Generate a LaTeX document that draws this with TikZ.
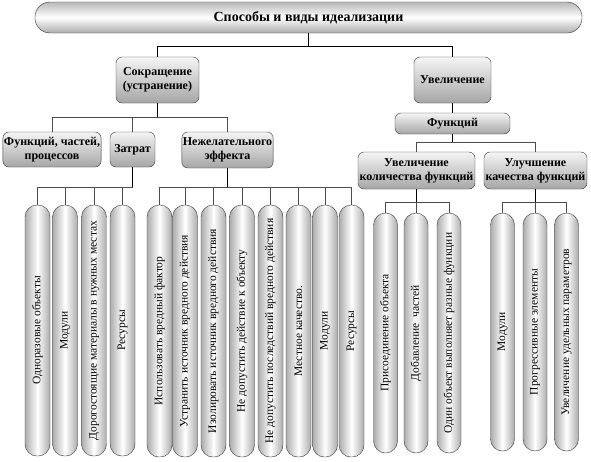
\documentclass[tikz,border=0pt]{standalone}
\usepackage{fontspec}
\setmainfont{Liberation Serif}
\usetikzlibrary{calc}
\tikzset{
	banner/.style={
		draw=gray!40!black,
		rounded corners=15pt,
		top color=gray!55,
		bottom color=gray!65,
		middle color=white,
		minimum width=547pt,
		minimum height=31pt,
		font=\fontsize{14}{16}\selectfont\bfseries},
	box/.style={
		draw=gray!40!black,
		rounded corners=6pt,
		top color=gray!8,
		bottom color=gray!70,
		align=center,
		inner sep=1pt,
		font=\fontsize{12}{14}\selectfont\bfseries},
	pill/.style={
		draw=gray!40!black,
		rounded corners=12pt,
		left color=gray!65,
		right color=gray!65,
		middle color=white,
		inner sep=0pt,
		minimum width=25pt,
		font=\fontsize{11.5}{13}\selectfont},
	trunk/.style={line width=1.1pt, black},
	branch/.style={line width=0.6pt, gray!60!black}
}

\begin{document}
\begin{tikzpicture}[x=1pt,y=-1pt]
	\useasboundingbox (0,0) rectangle (591,461);
	% top
	\node [banner] (title) at (308.5,17.5) {Способы и виды идеализации};
	\node [box, minimum width=83pt, minimum height=46pt] (red) at (157.5,80) {Сокращение\\(устранение)};
	\node [box, minimum width=77pt, minimum height=46pt] (inc) at (452.5,80) {Увеличение};
	\draw[trunk] (title.south) -- ++(0,13) coordinate (topbus);
	\draw[trunk] (topbus) -| (red.north);
	\draw[trunk] (topbus) -| (inc.north);
	% reduction
	\node [box, minimum width=98pt, minimum height=35pt] (fun) at (52,149.5) {Функций, частей,\\процессов};
	\node [box, minimum width=45pt, minimum height=35pt] (cost) at (132.5,149.5) {Затрат};
	\node [box, minimum width=91pt, minimum height=36pt] (harm) at (227.5,150) {Нежелательного\\эффекта};
	\draw[trunk] (red.south) -- ++(0,14) coordinate (redbus);
	\foreach \n in {fun,cost,harm}
		\draw[branch] (redbus) -| (\n.north);
	% increase
	\node [box, minimum width=115pt, minimum height=21pt] (funcs) at (452.5,123.5) {Функций};
	\node [box, minimum width=117pt, minimum height=37pt] (more) at (416.5,170.5) {Увеличение\\количества функций};
	\node [box, minimum width=103pt, minimum height=37pt] (qual) at (535.5,170.5) {Улучшение\\качества функций};
	\draw[trunk] (inc.south) -- (funcs.north);
	\draw[trunk] (funcs.south) -- ++(0,8) coordinate (funbus);
	\draw[branch] (funbus) -| (more.north);
	\draw[branch] (funbus) -| (qual.north);
	% pills under Затрат
	\foreach \x/\t [count=\i] in {37.5/Одноразовые объекты, 65/Модули, 94/Дорогостоящие материалы в нужных местах, 122.5/Ресурсы}
		\node [pill, minimum height=251pt] (c\i) at (\x,330.5) {\rotatebox{90}{\t}};
	\draw[trunk] (cost.south) -- ++(0,20) coordinate (costbus);
	\foreach \i in {1,...,4}
		\draw[branch] (costbus) -| (c\i.north);
	% pills under Нежелательного эффекта
	\foreach \x/\t [count=\i] in {159.5/Использовать вредный фактор, 185/Устранить источник вредного действия, 213.5/Изолировать источник вредного действия, 242/Не допустить действие к объекту, 270.5/Не допустить последствий вредного действия, 298.5/Местное качество., 325/Модули, 351.5/Ресурсы}
		\node [pill, minimum height=252pt] (h\i) at (\x,331) {\rotatebox{90}{\t}};
	\draw[trunk] (harm.south) -- ++(0,19) coordinate (harmbus);
	\foreach \i in {1,...,8}
		\draw[branch] (harmbus) -| (h\i.north);
	% pills under Увеличение количества функций
	\foreach \x/\t [count=\i] in {385.5/Присоединение объекта, 416/Добавление~ частей, 449/Один объект выполняет разные функции}
		\node [pill, minimum height=240pt, minimum width=24pt] (m\i) at (\x,333) {\rotatebox{90}{\t}};
	\draw[trunk] (more.south) -- ++(0,13) coordinate (morebus);
	\foreach \i in {1,...,3}
		\draw[branch] (morebus) -| (m\i.north);
	% pills under Улучшение качества функций
	\foreach \x/\t [count=\i] in {502.5/Модули, 535/Прогрессивные элементы, 566.5/Увеличение удельных параметров}
		\node [pill, minimum height=238pt, minimum width=24pt] (q\i) at (\x,332) {\rotatebox{90}{\t}};
	\draw[trunk] (qual.south) -- ++(0,13) coordinate (qualbus);
	\foreach \i in {1,...,3}
		\draw[branch] (qualbus) -| (q\i.north);
\end{tikzpicture}
\end{document}
